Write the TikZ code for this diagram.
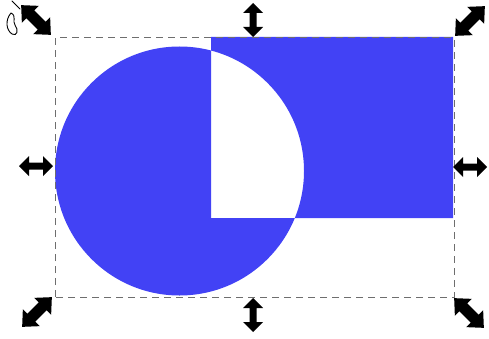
\documentclass[tikz,border=0pt]{standalone}
\definecolor{shapeblue}{RGB}{66,66,245}
\definecolor{boxgray}{RGB}{110,110,110}
\tikzset{
  handle/.pic={\fill[black] (-17,0) -- (-7,10) -- (-7,3.5) -- (7,3.5) -- (7,10) -- (17,0) -- (7,-10) -- (7,-3.5) -- (-7,-3.5) -- (-7,-10) -- cycle;},
  cornerhandle/.pic={\fill[black] (-21,0) -- (-8,12) -- (-8,5.5) -- (8,5.5) -- (8,12) -- (21,0) -- (8,-12) -- (8,-5.5) -- (-8,-5.5) -- (-8,-12) -- cycle;},
  selbox/.style={draw=boxgray, line width=1pt, dash pattern=on 7pt off 5pt},
  cursorline/.style={draw=black, line width=0.9pt, line cap=round, line join=round}
}
\begin{document}
\begin{tikzpicture}[x=1pt,y=1pt]
\useasboundingbox (0,0) rectangle (489,338);
% shapes with even-odd overlap
\fill[shapeblue, even odd rule] (179.5,167) circle (124.5) (211,120) rectangle (453,301);
% selection box
\draw[selbox] (55,41) rectangle (454,300);
% handles
\path (253,318) pic[rotate=90] {handle};
\path (253,23) pic[rotate=90] {handle};
\path (36,172) pic {handle};
\path (470,171) pic {handle};
\path (36,318) pic[rotate=-45] {cornerhandle};
\path (470,317) pic[rotate=45] {cornerhandle};
\path (37,26) pic[rotate=45] {cornerhandle};
\path (469,25) pic[rotate=-45] {cornerhandle};
% cursor fragment
\draw[cursorline] (12,337) -- (20,329);
\draw[cursorline] (11,325) .. controls (5,318) and (6,308) .. (12,304) .. controls (17,301) and (19,308) .. (15,313) .. controls (12,317) and (17,322) .. (11,325);
\end{tikzpicture}
\end{document}
